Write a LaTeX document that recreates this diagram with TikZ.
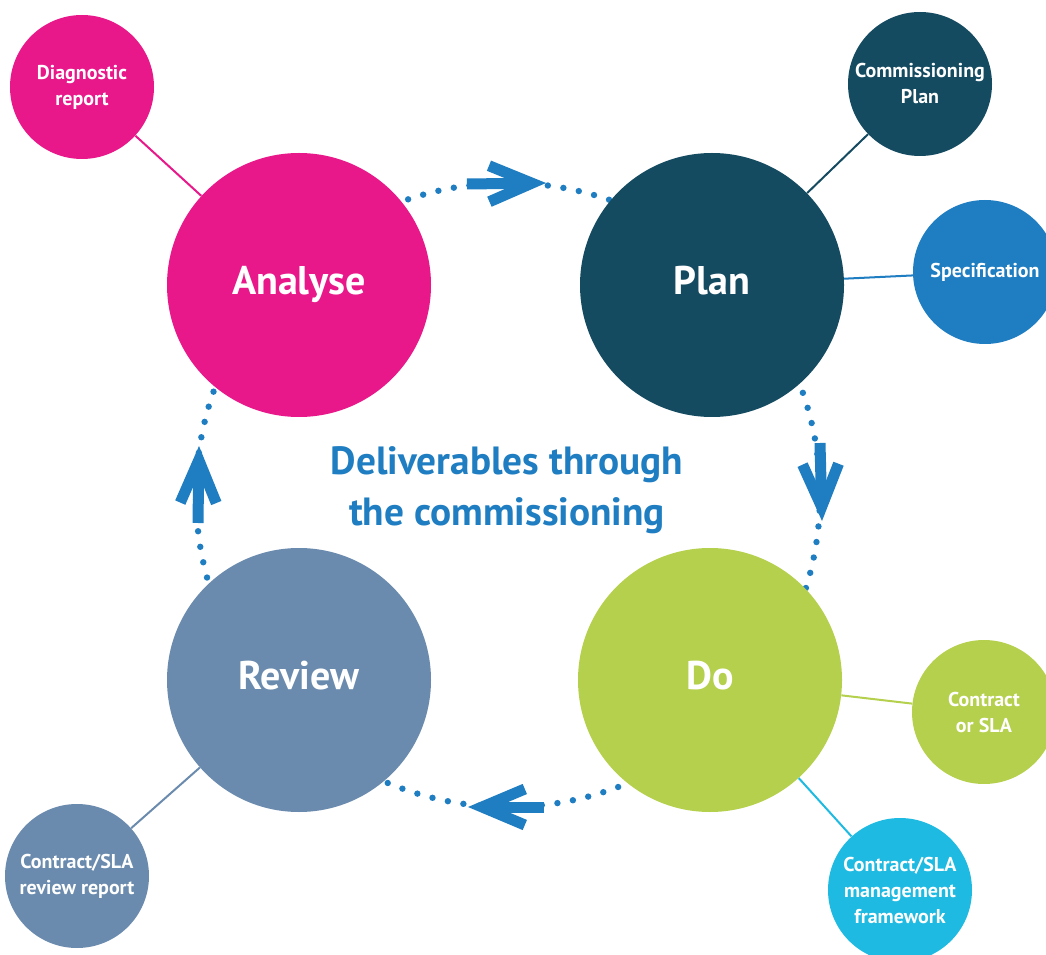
\documentclass[tikz,border=0pt]{standalone}
\usepackage{fontspec}
\setmainfont{PT Sans}
\usetikzlibrary{arrows.meta}

\definecolor{analysepink}{HTML}{E8178A}
\definecolor{planteal}{HTML}{154B61}
\definecolor{specblue}{HTML}{1F7DC1}
\definecolor{dogreen}{HTML}{B5D04C}
\definecolor{framecyan}{HTML}{1EBAE1}
\definecolor{reviewgrey}{HTML}{6A8BAD}

\tikzset{
	bigdisc/.style={circle, inner sep=0pt, minimum size=198pt, text=white,
		font=\bfseries\fontsize{30}{32}\selectfont, text height=22.5pt, text depth=8pt},
	smalldisc/.style={circle, inner sep=0pt, minimum size=108pt, text=white,
		align=center, font=\bfseries\fontsize{15}{19.5}\selectfont},
	link/.style={line width=1.5pt},
	ring/.style={draw=specblue, line width=4.8pt, line cap=round, dash pattern=on 0pt off 11.8pt},
	cyclearrow/.style={draw=specblue, line width=8.25pt, -{Straight Barb[length=32pt, width=27pt]}},
}

\begin{document}
\begin{tikzpicture}[x=0.75pt,y=0.75pt,yscale=-1,xscale=1]
	\useasboundingbox (0,0) rectangle (1046,955);

	% dotted cycle
	\coordinate (hub) at (508,495);
	\draw [ring] (hub) circle [radius=312];

	% arrows on the cycle
	\coordinate (t0) at (467,184);
	\coordinate (t1) at (546,183);
	\coordinate (r0) at (820,443);
	\coordinate (r1) at (822,521);
	\coordinate (b0) at (544,807);
	\coordinate (b1) at (468,807);
	\coordinate (l0) at (198,523);
	\coordinate (l1) at (199,446);
	\draw [cyclearrow] (t0) -- (t1);
	\draw [cyclearrow] (r0) -- (r1);
	\draw [cyclearrow] (b0) -- (b1);
	\draw [cyclearrow] (l0) -- (l1);

	% Text Node
	\node [bigdisc, fill=analysepink] (analyse) at (299,285) {Analyse};
	% Text Node
	\node [bigdisc, fill=planteal] (plan) at (712,285) {Plan};
	% Text Node
	\node [bigdisc, fill=dogreen] (do) at (710,680) {Do};
	% Text Node
	\node [bigdisc, fill=reviewgrey] (review) at (299,680) {Review};

	% Text Node
	\node [smalldisc, fill=analysepink] (diag) at (82,87) {Diagnostic\\report};
	% Text Node
	\node [smalldisc, fill=planteal] (complan) at (920,84) {Commissioning\\Plan};
	% Text Node
	\node [smalldisc, fill=specblue] (spec) at (985,272) {Specification};
	% Text Node
	\node [smalldisc, fill=dogreen] (cosla) at (984,712) {Contract\\or SLA};
	% Text Node
	\node [smalldisc, fill=framecyan] (frame) at (900,890) {Contract/SLA\\management\\framework};
	% Text Node
	\node [smalldisc, fill=reviewgrey] (revrep) at (77,876) {Contract/SLA\\review report};

	% Text Node
	\node [text=specblue, align=center, font=\bfseries\fontsize{29.5}{38}\selectfont] (deliv) at (507,490) {Deliverables through\\the commissioning};

	% Connection
	\draw [link, draw=analysepink] (diag) -- (analyse);
	% Connection
	\draw [link, draw=planteal] (complan) -- (plan);
	% Connection
	\draw [link, draw=specblue] (spec) -- (plan);
	% Connection
	\draw [link, draw=dogreen] (cosla) -- (do);
	% Connection
	\draw [link, draw=framecyan] (frame) -- (do);
	% Connection
	\draw [link, draw=reviewgrey] (revrep) -- (review);

\end{tikzpicture}
\end{document}
